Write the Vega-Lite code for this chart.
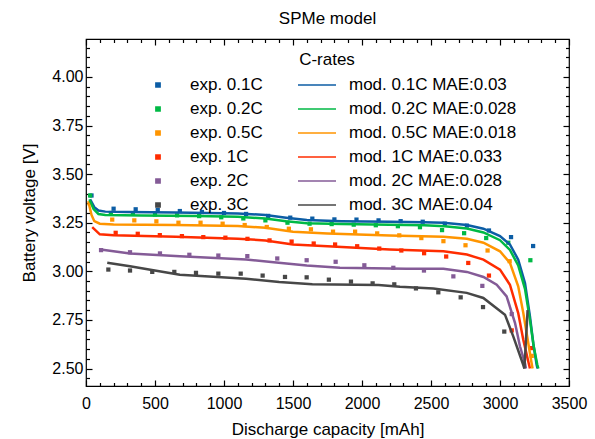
{
  "$schema": "https://vega.github.io/schema/vega-lite/v6.json",
  "width": 483,
  "height": 347,
  "autosize": {"type": "none"},
  "padding": {"left": 86, "top": 39, "right": 26, "bottom": 53},
  "title": {"text": "SPMe model", "fontSize": 17, "fontWeight": "normal", "font": "Liberation Sans", "color": "#000", "offset": 10},
  "config": {
    "view": {"stroke": "#000", "strokeWidth": 1.2},
    "font": "Liberation Sans",
    "axis": {"grid": false, "domain": false, "tickColor": "#000", "tickWidth": 1.2, "labelColor": "#000", "titleColor": "#000", "labelFontSize": 16, "titleFontSize": 17, "titleFontWeight": "normal", "labelFont": "Liberation Sans", "titleFont": "Liberation Sans"}
  },
  "datasets": {
    "exp": [
      {"s": "exp. 0.1C", "c": 40, "v": 3.39}, {"s": "exp. 0.1C", "c": 200, "v": 3.322}, {"s": "exp. 0.1C", "c": 360, "v": 3.319}, {"s": "exp. 0.1C", "c": 520, "v": 3.316}, {"s": "exp. 0.1C", "c": 680, "v": 3.31}, {"s": "exp. 0.1C", "c": 840, "v": 3.305}, {"s": "exp. 0.1C", "c": 1000, "v": 3.3}, {"s": "exp. 0.1C", "c": 1160, "v": 3.295}, {"s": "exp. 0.1C", "c": 1320, "v": 3.285}, {"s": "exp. 0.1C", "c": 1480, "v": 3.276}, {"s": "exp. 0.1C", "c": 1640, "v": 3.271}, {"s": "exp. 0.1C", "c": 1800, "v": 3.267}, {"s": "exp. 0.1C", "c": 1960, "v": 3.266}, {"s": "exp. 0.1C", "c": 2120, "v": 3.262}, {"s": "exp. 0.1C", "c": 2280, "v": 3.258}, {"s": "exp. 0.1C", "c": 2440, "v": 3.255}, {"s": "exp. 0.1C", "c": 2600, "v": 3.245}, {"s": "exp. 0.1C", "c": 2760, "v": 3.235}, {"s": "exp. 0.1C", "c": 2920, "v": 3.21}, {"s": "exp. 0.1C", "c": 3080, "v": 3.176}, {"s": "exp. 0.1C", "c": 3240, "v": 3.13},
      {"s": "exp. 0.2C", "c": 30, "v": 3.39}, {"s": "exp. 0.2C", "c": 180, "v": 3.3}, {"s": "exp. 0.2C", "c": 340, "v": 3.297}, {"s": "exp. 0.2C", "c": 500, "v": 3.292}, {"s": "exp. 0.2C", "c": 660, "v": 3.288}, {"s": "exp. 0.2C", "c": 820, "v": 3.284}, {"s": "exp. 0.2C", "c": 980, "v": 3.278}, {"s": "exp. 0.2C", "c": 1140, "v": 3.272}, {"s": "exp. 0.2C", "c": 1300, "v": 3.262}, {"s": "exp. 0.2C", "c": 1460, "v": 3.25}, {"s": "exp. 0.2C", "c": 1620, "v": 3.245}, {"s": "exp. 0.2C", "c": 1780, "v": 3.243}, {"s": "exp. 0.2C", "c": 1940, "v": 3.24}, {"s": "exp. 0.2C", "c": 2100, "v": 3.237}, {"s": "exp. 0.2C", "c": 2260, "v": 3.232}, {"s": "exp. 0.2C", "c": 2420, "v": 3.227}, {"s": "exp. 0.2C", "c": 2580, "v": 3.212}, {"s": "exp. 0.2C", "c": 2740, "v": 3.196}, {"s": "exp. 0.2C", "c": 2900, "v": 3.171}, {"s": "exp. 0.2C", "c": 3060, "v": 3.147}, {"s": "exp. 0.2C", "c": 3220, "v": 3.057},
      {"s": "exp. 0.5C", "c": 25, "v": 3.35}, {"s": "exp. 0.5C", "c": 190, "v": 3.266}, {"s": "exp. 0.5C", "c": 350, "v": 3.262}, {"s": "exp. 0.5C", "c": 510, "v": 3.257}, {"s": "exp. 0.5C", "c": 670, "v": 3.25}, {"s": "exp. 0.5C", "c": 830, "v": 3.25}, {"s": "exp. 0.5C", "c": 990, "v": 3.245}, {"s": "exp. 0.5C", "c": 1150, "v": 3.238}, {"s": "exp. 0.5C", "c": 1310, "v": 3.228}, {"s": "exp. 0.5C", "c": 1470, "v": 3.219}, {"s": "exp. 0.5C", "c": 1630, "v": 3.216}, {"s": "exp. 0.5C", "c": 1790, "v": 3.204}, {"s": "exp. 0.5C", "c": 1950, "v": 3.204}, {"s": "exp. 0.5C", "c": 2110, "v": 3.195}, {"s": "exp. 0.5C", "c": 2270, "v": 3.185}, {"s": "exp. 0.5C", "c": 2430, "v": 3.171}, {"s": "exp. 0.5C", "c": 2590, "v": 3.155}, {"s": "exp. 0.5C", "c": 2750, "v": 3.134}, {"s": "exp. 0.5C", "c": 2910, "v": 3.107}, {"s": "exp. 0.5C", "c": 3070, "v": 3.052}, {"s": "exp. 0.5C", "c": 3230, "v": 2.565},
      {"s": "exp. 1C", "c": 215, "v": 3.198}, {"s": "exp. 1C", "c": 375, "v": 3.193}, {"s": "exp. 1C", "c": 535, "v": 3.186}, {"s": "exp. 1C", "c": 695, "v": 3.181}, {"s": "exp. 1C", "c": 850, "v": 3.176}, {"s": "exp. 1C", "c": 1010, "v": 3.173}, {"s": "exp. 1C", "c": 1170, "v": 3.167}, {"s": "exp. 1C", "c": 1330, "v": 3.159}, {"s": "exp. 1C", "c": 1490, "v": 3.153}, {"s": "exp. 1C", "c": 1650, "v": 3.143}, {"s": "exp. 1C", "c": 1805, "v": 3.138}, {"s": "exp. 1C", "c": 1965, "v": 3.129}, {"s": "exp. 1C", "c": 2125, "v": 3.117}, {"s": "exp. 1C", "c": 2285, "v": 3.107}, {"s": "exp. 1C", "c": 2450, "v": 3.093}, {"s": "exp. 1C", "c": 2610, "v": 3.076}, {"s": "exp. 1C", "c": 2770, "v": 3.043}, {"s": "exp. 1C", "c": 2920, "v": 2.978}, {"s": "exp. 1C", "c": 3085, "v": 2.696}, {"s": "exp. 1C", "c": 3225, "v": 2.605},
      {"s": "exp. 2C", "c": 109, "v": 3.109}, {"s": "exp. 2C", "c": 319, "v": 3.098}, {"s": "exp. 2C", "c": 536, "v": 3.092}, {"s": "exp. 2C", "c": 749, "v": 3.085}, {"s": "exp. 2C", "c": 959, "v": 3.081}, {"s": "exp. 2C", "c": 1169, "v": 3.078}, {"s": "exp. 2C", "c": 1386, "v": 3.066}, {"s": "exp. 2C", "c": 1599, "v": 3.057}, {"s": "exp. 2C", "c": 1809, "v": 3.049}, {"s": "exp. 2C", "c": 2017, "v": 3.031}, {"s": "exp. 2C", "c": 2227, "v": 3.018}, {"s": "exp. 2C", "c": 2449, "v": 3.004}, {"s": "exp. 2C", "c": 2662, "v": 2.974}, {"s": "exp. 2C", "c": 2872, "v": 2.925}, {"s": "exp. 2C", "c": 3085, "v": 2.78},
      {"s": "exp. 3C", "c": 162, "v": 3.009}, {"s": "exp. 3C", "c": 319, "v": 3.004}, {"s": "exp. 3C", "c": 480, "v": 2.997}, {"s": "exp. 3C", "c": 640, "v": 2.997}, {"s": "exp. 3C", "c": 797, "v": 2.992}, {"s": "exp. 3C", "c": 959, "v": 2.988}, {"s": "exp. 3C", "c": 1121, "v": 2.988}, {"s": "exp. 3C", "c": 1280, "v": 2.978}, {"s": "exp. 3C", "c": 1442, "v": 2.971}, {"s": "exp. 3C", "c": 1599, "v": 2.969}, {"s": "exp. 3C", "c": 1760, "v": 2.957}, {"s": "exp. 3C", "c": 1920, "v": 2.947}, {"s": "exp. 3C", "c": 2077, "v": 2.938}, {"s": "exp. 3C", "c": 2234, "v": 2.933}, {"s": "exp. 3C", "c": 2391, "v": 2.912}, {"s": "exp. 3C", "c": 2553, "v": 2.892}, {"s": "exp. 3C", "c": 2715, "v": 2.866}, {"s": "exp. 3C", "c": 2877, "v": 2.816}, {"s": "exp. 3C", "c": 3031, "v": 2.69}
    ],
    "mod": [
      {"s": "mod. 0.1C MAE:0.03", "c": 30, "v": 3.37}, {"s": "mod. 0.1C MAE:0.03", "c": 60, "v": 3.33}, {"s": "mod. 0.1C MAE:0.03", "c": 90, "v": 3.313}, {"s": "mod. 0.1C MAE:0.03", "c": 140, "v": 3.307}, {"s": "mod. 0.1C MAE:0.03", "c": 300, "v": 3.305}, {"s": "mod. 0.1C MAE:0.03", "c": 650, "v": 3.302}, {"s": "mod. 0.1C MAE:0.03", "c": 1100, "v": 3.297}, {"s": "mod. 0.1C MAE:0.03", "c": 1300, "v": 3.29}, {"s": "mod. 0.1C MAE:0.03", "c": 1450, "v": 3.276}, {"s": "mod. 0.1C MAE:0.03", "c": 1600, "v": 3.264}, {"s": "mod. 0.1C MAE:0.03", "c": 1850, "v": 3.258}, {"s": "mod. 0.1C MAE:0.03", "c": 2200, "v": 3.255}, {"s": "mod. 0.1C MAE:0.03", "c": 2450, "v": 3.252}, {"s": "mod. 0.1C MAE:0.03", "c": 2590, "v": 3.25}, {"s": "mod. 0.1C MAE:0.03", "c": 2760, "v": 3.238}, {"s": "mod. 0.1C MAE:0.03", "c": 2880, "v": 3.219}, {"s": "mod. 0.1C MAE:0.03", "c": 3000, "v": 3.181}, {"s": "mod. 0.1C MAE:0.03", "c": 3072, "v": 3.138}, {"s": "mod. 0.1C MAE:0.03", "c": 3132, "v": 3.06}, {"s": "mod. 0.1C MAE:0.03", "c": 3181, "v": 2.94}, {"s": "mod. 0.1C MAE:0.03", "c": 3217, "v": 2.768}, {"s": "mod. 0.1C MAE:0.03", "c": 3241, "v": 2.63}, {"s": "mod. 0.1C MAE:0.03", "c": 3266, "v": 2.518}, {"s": "mod. 0.1C MAE:0.03", "c": 3272, "v": 2.5},
      {"s": "mod. 0.2C MAE:0.028", "c": 25, "v": 3.37}, {"s": "mod. 0.2C MAE:0.028", "c": 55, "v": 3.32}, {"s": "mod. 0.2C MAE:0.028", "c": 90, "v": 3.295}, {"s": "mod. 0.2C MAE:0.028", "c": 140, "v": 3.29}, {"s": "mod. 0.2C MAE:0.028", "c": 400, "v": 3.287}, {"s": "mod. 0.2C MAE:0.028", "c": 800, "v": 3.284}, {"s": "mod. 0.2C MAE:0.028", "c": 1100, "v": 3.28}, {"s": "mod. 0.2C MAE:0.028", "c": 1300, "v": 3.272}, {"s": "mod. 0.2C MAE:0.028", "c": 1450, "v": 3.258}, {"s": "mod. 0.2C MAE:0.028", "c": 1600, "v": 3.247}, {"s": "mod. 0.2C MAE:0.028", "c": 1850, "v": 3.243}, {"s": "mod. 0.2C MAE:0.028", "c": 2200, "v": 3.24}, {"s": "mod. 0.2C MAE:0.028", "c": 2450, "v": 3.237}, {"s": "mod. 0.2C MAE:0.028", "c": 2600, "v": 3.232}, {"s": "mod. 0.2C MAE:0.028", "c": 2760, "v": 3.22}, {"s": "mod. 0.2C MAE:0.028", "c": 2880, "v": 3.2}, {"s": "mod. 0.2C MAE:0.028", "c": 3000, "v": 3.16}, {"s": "mod. 0.2C MAE:0.028", "c": 3072, "v": 3.11}, {"s": "mod. 0.2C MAE:0.028", "c": 3132, "v": 3.03}, {"s": "mod. 0.2C MAE:0.028", "c": 3181, "v": 2.91}, {"s": "mod. 0.2C MAE:0.028", "c": 3217, "v": 2.75}, {"s": "mod. 0.2C MAE:0.028", "c": 3245, "v": 2.61}, {"s": "mod. 0.2C MAE:0.028", "c": 3270, "v": 2.52}, {"s": "mod. 0.2C MAE:0.028", "c": 3278, "v": 2.5},
      {"s": "mod. 0.5C MAE:0.018", "c": 20, "v": 3.35}, {"s": "mod. 0.5C MAE:0.018", "c": 40, "v": 3.29}, {"s": "mod. 0.5C MAE:0.018", "c": 60, "v": 3.258}, {"s": "mod. 0.5C MAE:0.018", "c": 100, "v": 3.245}, {"s": "mod. 0.5C MAE:0.018", "c": 200, "v": 3.241}, {"s": "mod. 0.5C MAE:0.018", "c": 650, "v": 3.238}, {"s": "mod. 0.5C MAE:0.018", "c": 1100, "v": 3.233}, {"s": "mod. 0.5C MAE:0.018", "c": 1300, "v": 3.224}, {"s": "mod. 0.5C MAE:0.018", "c": 1500, "v": 3.204}, {"s": "mod. 0.5C MAE:0.018", "c": 1750, "v": 3.195}, {"s": "mod. 0.5C MAE:0.018", "c": 2200, "v": 3.184}, {"s": "mod. 0.5C MAE:0.018", "c": 2590, "v": 3.178}, {"s": "mod. 0.5C MAE:0.018", "c": 2760, "v": 3.167}, {"s": "mod. 0.5C MAE:0.018", "c": 2880, "v": 3.147}, {"s": "mod. 0.5C MAE:0.018", "c": 3000, "v": 3.103}, {"s": "mod. 0.5C MAE:0.018", "c": 3072, "v": 3.043}, {"s": "mod. 0.5C MAE:0.018", "c": 3132, "v": 2.923}, {"s": "mod. 0.5C MAE:0.018", "c": 3169, "v": 2.785}, {"s": "mod. 0.5C MAE:0.018", "c": 3205, "v": 2.63}, {"s": "mod. 0.5C MAE:0.018", "c": 3229, "v": 2.527}, {"s": "mod. 0.5C MAE:0.018", "c": 3236, "v": 2.5},
      {"s": "mod. 1C MAE:0.033", "c": 45, "v": 3.227}, {"s": "mod. 1C MAE:0.033", "c": 100, "v": 3.19}, {"s": "mod. 1C MAE:0.033", "c": 200, "v": 3.185}, {"s": "mod. 1C MAE:0.033", "c": 650, "v": 3.178}, {"s": "mod. 1C MAE:0.033", "c": 1100, "v": 3.167}, {"s": "mod. 1C MAE:0.033", "c": 1300, "v": 3.159}, {"s": "mod. 1C MAE:0.033", "c": 1500, "v": 3.138}, {"s": "mod. 1C MAE:0.033", "c": 1750, "v": 3.129}, {"s": "mod. 1C MAE:0.033", "c": 2200, "v": 3.112}, {"s": "mod. 1C MAE:0.033", "c": 2590, "v": 3.103}, {"s": "mod. 1C MAE:0.033", "c": 2760, "v": 3.086}, {"s": "mod. 1C MAE:0.033", "c": 2880, "v": 3.06}, {"s": "mod. 1C MAE:0.033", "c": 3000, "v": 3.009}, {"s": "mod. 1C MAE:0.033", "c": 3072, "v": 2.931}, {"s": "mod. 1C MAE:0.033", "c": 3132, "v": 2.785}, {"s": "mod. 1C MAE:0.033", "c": 3169, "v": 2.647}, {"s": "mod. 1C MAE:0.033", "c": 3205, "v": 2.536}, {"s": "mod. 1C MAE:0.033", "c": 3217, "v": 2.5},
      {"s": "mod. 2C MAE:0.028", "c": 106, "v": 3.112}, {"s": "mod. 2C MAE:0.028", "c": 319, "v": 3.092}, {"s": "mod. 2C MAE:0.028", "c": 680, "v": 3.078}, {"s": "mod. 2C MAE:0.028", "c": 1160, "v": 3.061}, {"s": "mod. 2C MAE:0.028", "c": 1360, "v": 3.047}, {"s": "mod. 2C MAE:0.028", "c": 1600, "v": 3.03}, {"s": "mod. 2C MAE:0.028", "c": 1840, "v": 3.018}, {"s": "mod. 2C MAE:0.028", "c": 2320, "v": 3.013}, {"s": "mod. 2C MAE:0.028", "c": 2590, "v": 3.013}, {"s": "mod. 2C MAE:0.028", "c": 2760, "v": 2.997}, {"s": "mod. 2C MAE:0.028", "c": 2880, "v": 2.971}, {"s": "mod. 2C MAE:0.028", "c": 2976, "v": 2.931}, {"s": "mod. 2C MAE:0.028", "c": 3048, "v": 2.871}, {"s": "mod. 2C MAE:0.028", "c": 3109, "v": 2.734}, {"s": "mod. 2C MAE:0.028", "c": 3145, "v": 2.613}, {"s": "mod. 2C MAE:0.028", "c": 3181, "v": 2.527}, {"s": "mod. 2C MAE:0.028", "c": 3188, "v": 2.5},
      {"s": "mod. 3C MAE:0.04", "c": 154, "v": 3.044}, {"s": "mod. 3C MAE:0.04", "c": 319, "v": 3.026}, {"s": "mod. 3C MAE:0.04", "c": 488, "v": 3.005}, {"s": "mod. 3C MAE:0.04", "c": 680, "v": 2.982}, {"s": "mod. 3C MAE:0.04", "c": 922, "v": 2.972}, {"s": "mod. 3C MAE:0.04", "c": 1160, "v": 2.962}, {"s": "mod. 3C MAE:0.04", "c": 1400, "v": 2.945}, {"s": "mod. 3C MAE:0.04", "c": 1640, "v": 2.933}, {"s": "mod. 3C MAE:0.04", "c": 2120, "v": 2.93}, {"s": "mod. 3C MAE:0.04", "c": 2275, "v": 2.92}, {"s": "mod. 3C MAE:0.04", "c": 2517, "v": 2.911}, {"s": "mod. 3C MAE:0.04", "c": 2759, "v": 2.889}, {"s": "mod. 3C MAE:0.04", "c": 2879, "v": 2.863}, {"s": "mod. 3C MAE:0.04", "c": 3036, "v": 2.777}, {"s": "mod. 3C MAE:0.04", "c": 3096, "v": 2.665}, {"s": "mod. 3C MAE:0.04", "c": 3169, "v": 2.518}, {"s": "mod. 3C MAE:0.04", "c": 3177, "v": 2.5}, {"s": "mod. 3C MAE:0.04", "c": 3200, "v": 2.8}
    ]
  },
  "layer": [
    {
      "data": {"name": "exp"},
      "mark": {"type": "point", "filled": true, "opacity": 1},
      "encoding": {
        "x": {"field": "c", "type": "quantitative", "scale": {"domain": [0, 3500], "nice": false, "zero": false},
          "axis": {"orient": "bottom", "title": "Discharge capacity [mAh]", "values": [0,100,200,300,400,500,600,700,800,900,1000,1100,1200,1300,1400,1500,1600,1700,1800,1900,2000,2100,2200,2300,2400,2500,2600,2700,2800,2900,3000,3100,3200,3300,3400,3500],
            "labelExpr": "datum.value % 500 === 0 ? format(datum.value, 'd') : ''", "labelFlush": false, "labelOverlap": false,
            "tickSize": {"condition": {"test": "datum.value % 500 === 0", "value": -6}, "value": -3.5},
            "labelPadding": 15, "titlePadding": 8}},
        "y": {"field": "v", "type": "quantitative", "scale": {"domain": [2.41, 4.195], "nice": false, "zero": false},
          "axis": {"orient": "left", "title": "Battery voltage [V]", "values": [2.45,2.5,2.55,2.6,2.65,2.7,2.75,2.8,2.85,2.9,2.95,3.0,3.05,3.1,3.15,3.2,3.25,3.3,3.35,3.4,3.45,3.5,3.55,3.6,3.65,3.7,3.75,3.8,3.85,3.9,3.95,4.0,4.05,4.1,4.15],
            "labelExpr": "round(datum.value*100) % 25 === 0 ? format(datum.value, '.2f') : ''", "labelFlush": false, "labelOverlap": false,
            "tickSize": {"condition": {"test": "round(datum.value*100) % 25 === 0", "value": -6}, "value": -3.5},
            "labelPadding": 9, "titlePadding": 13}},
        "color": {"field": "s", "type": "nominal",
          "scale": {"domain": ["exp. 0.1C","exp. 0.2C","exp. 0.5C","exp. 1C","exp. 2C","exp. 3C","mod. 0.1C MAE:0.03","mod. 0.2C MAE:0.028","mod. 0.5C MAE:0.018","mod. 1C MAE:0.033","mod. 2C MAE:0.028","mod. 3C MAE:0.04"],
            "range": ["#0C5DA5","#00B945","#FF9500","#FF2C00","#845B97","#474747","#0C5DA5","#00B945","#FF9500","#FF2C00","#845B97","#474747"]},
          "legend": {"title": "C-rates", "orient": "none", "legendX": 52, "legendY": 13, "columns": 2, "columnPadding": 34, "rowPadding": 4, "clipHeight": 20, "labelFontSize": 17, "labelFont": "Liberation Sans", "labelLimit": 300, "titleFontSize": 17, "titleFont": "Liberation Sans", "titleFontWeight": "normal", "titleAnchor": "middle", "titlePadding": 6, "labelOffset": 12, "labelColor": "#000", "titleColor": "#000", "padding": 0, "symbolOffset": 0,
            "encode": {"symbols": {"update": {"stroke": {"scale": "color", "field": "value"}, "fill": {"scale": "color", "field": "value"}, "opacity": {"value": 1}, "strokeWidth": [{"test": "indexof(datum.value, 'mod') === 0", "value": 2.5}, {"value": 0}]}}}}},
        "shape": {"field": "s", "type": "nominal",
          "scale": {"domain": ["exp. 0.1C","exp. 0.2C","exp. 0.5C","exp. 1C","exp. 2C","exp. 3C","mod. 0.1C MAE:0.03","mod. 0.2C MAE:0.028","mod. 0.5C MAE:0.018","mod. 1C MAE:0.033","mod. 2C MAE:0.028","mod. 3C MAE:0.04"],
            "range": ["square","square","square","square","square","square","stroke","stroke","stroke","stroke","stroke","stroke"]},
          "legend": {"title": "C-rates"}},
        "size": {"field": "s", "type": "nominal",
          "scale": {"type": "ordinal", "domain": ["exp. 0.1C","exp. 0.2C","exp. 0.5C","exp. 1C","exp. 2C","exp. 3C","mod. 0.1C MAE:0.03","mod. 0.2C MAE:0.028","mod. 0.5C MAE:0.018","mod. 1C MAE:0.033","mod. 2C MAE:0.028","mod. 3C MAE:0.04"],
            "range": [18,18,18,18,18,18,1444,1444,1444,1444,1444,1444]},
          "legend": {"title": "C-rates"}}
      }
    },
    {
      "data": {"name": "mod"},
      "mark": {"type": "line", "strokeWidth": 2.5},
      "encoding": {
        "x": {"field": "c", "type": "quantitative", "scale": {"domain": [0, 3500], "nice": false, "zero": false},
          "axis": {"orient": "top", "title": null, "labels": false, "values": [0,100,200,300,400,500,600,700,800,900,1000,1100,1200,1300,1400,1500,1600,1700,1800,1900,2000,2100,2200,2300,2400,2500,2600,2700,2800,2900,3000,3100,3200,3300,3400,3500],
            "tickSize": {"condition": {"test": "datum.value % 500 === 0", "value": -6}, "value": -3.5}}},
        "y": {"field": "v", "type": "quantitative", "scale": {"domain": [2.41, 4.195], "nice": false, "zero": false},
          "axis": {"orient": "right", "title": null, "labels": false, "values": [2.45,2.5,2.55,2.6,2.65,2.7,2.75,2.8,2.85,2.9,2.95,3.0,3.05,3.1,3.15,3.2,3.25,3.3,3.35,3.4,3.45,3.5,3.55,3.6,3.65,3.7,3.75,3.8,3.85,3.9,3.95,4.0,4.05,4.1,4.15],
            "tickSize": {"condition": {"test": "round(datum.value*100) % 25 === 0", "value": -6}, "value": -3.5}}},
        "color": {"field": "s", "type": "nominal", "legend": null}
      }
    }
  ],
  "resolve": {"axis": {"x": "independent", "y": "independent"}}
}
